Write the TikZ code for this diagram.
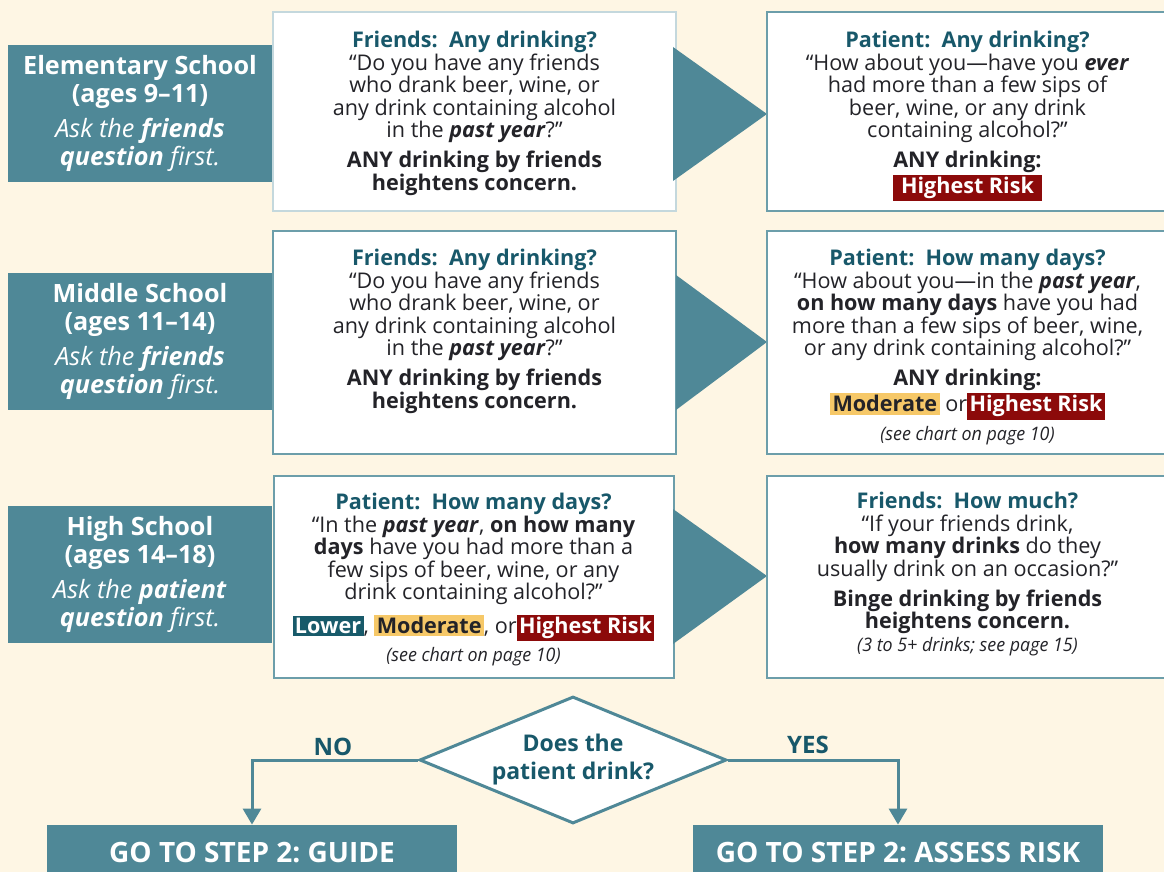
\documentclass[tikz,border=0pt]{standalone}
\usepackage{fontspec}
\setmainfont{Open Sans}
\usepackage{graphicx}
\usetikzlibrary{arrows.meta, shapes.geometric, positioning}
\frenchspacing

\definecolor{teal1}{RGB}{79,136,151}
\definecolor{teal2}{RGB}{108,158,170}
\definecolor{tealdark}{RGB}{24,88,106}
\definecolor{cream}{RGB}{254,246,228}
\definecolor{riskred}{RGB}{140,10,10}
\definecolor{riskyel}{RGB}{246,200,104}
\definecolor{risklow}{RGB}{24,90,106}
\definecolor{ink}{RGB}{35,35,40}

\newcommand{\riskbox}[3]{{\setlength{\fboxsep}{1.2pt}\colorbox{#1}{\textcolor{#2}{\bfseries #3}}}}
\newcommand{\seepage}[1]{{\fontsize{9.3}{11}\selectfont\itshape\scalebox{0.96}[1]{#1}}}
\newcommand{\bi}[1]{\textbf{\textit{#1}}}
\newcommand{\qhead}[1]{\textcolor{tealdark}{\bfseries #1}}

\begin{document}
\begin{tikzpicture}[x=0.5pt,y=-0.5pt,
  agebox/.style={rectangle, fill=teal1, text=white, minimum width=132pt,
    minimum height=68.5pt, align=center, inner sep=0pt,
    font=\fontsize{12.6}{14}\selectfont},
  qbox/.style={rectangle, draw=teal2, line width=1pt, fill=white, inner sep=0pt},
  qtext/.style={align=center, anchor=north, inner sep=0pt, text=ink,
    font=\fontsize{10.8}{11.25}\selectfont},
  pointer/.style={fill=teal1},
  flowline/.style={draw=teal1, line width=1.5pt, -{Triangle[width=9pt,length=8pt]}},
  stepbox/.style={rectangle, fill=teal1, text=white, minimum width=205pt,
    minimum height=28pt, inner sep=0pt, font=\fontsize{14}{15}\bfseries},
  answer/.style={text=tealdark, font=\fontsize{12}{13}\bfseries, inner sep=0pt}]
% Page and background
\useasboundingbox (0,0) rectangle (1164,872);
\clip (0,0) rectangle (1164,872);
\fill[cream] (0,0) rectangle (1164,872);
% Age groups on the left
\node[agebox] (elem) at (140,113.5) {\textbf{Elementary School}\\\textbf{(ages 9--11)}\\[3.5pt]
  \textit{Ask the \textbf{friends}}\\\textit{\textbf{question} first.}};
\node[agebox] (mid) at (140,341.5) {\textbf{Middle School}\\\textbf{(ages 11--14)}\\[3.5pt]
  \textit{Ask the \textbf{friends}}\\\textit{\textbf{question} first.}};
\node[agebox] (high) at (140,574.5) {\textbf{High School}\\\textbf{(ages 14--18)}\\[3.5pt]
  \textit{Ask the \textbf{patient}}\\\textit{\textbf{question} first.}};
% First question boxes
\node[qbox, draw=teal2!40, minimum width=201.5pt, minimum height=99.5pt] (fq1) at (474.5,111.5) {};
\node[qbox, minimum width=201.5pt, minimum height=111.5pt] (fq2) at (474.5,342.5) {};
\node[qbox, minimum width=200pt, minimum height=101pt] (pq3) at (473.5,577) {};
% Pointers between the boxes
\fill[pointer] (673,47) -- (673,181) -- (767,114) -- cycle;
\fill[pointer] (676,275) -- (676,410) -- (767,342) -- cycle;
\fill[pointer] (673,509) -- (673,644) -- (767,576) -- cycle;
% Second question boxes
\node[qbox, minimum width=200.5pt, minimum height=99.5pt] (pq1) at (967.5,111.5) {};
\node[qbox, minimum width=200.5pt, minimum height=111.5pt] (pq2) at (967.5,342.5) {};
\node[qbox, minimum width=200.5pt, minimum height=101pt] (fq3) at (967.5,577) {};
% Texts of the question boxes
\node[qtext] (fq1t) at ([yshift=-10pt]fq1.north) {\qhead{Friends:\ \ Any drinking?}\\
  “Do you have any friends\\ who drank beer, wine, or\\ any drink containing alcohol\\
  in the \bi{past year}?”\\[3.8pt]
  \textbf{ANY drinking by friends}\\ \textbf{heightens concern.}};
\node[qtext] (fq2t) at ([yshift=-9.5pt]fq2.north) {\qhead{Friends:\ \ Any drinking?}\\
  “Do you have any friends\\ who drank beer, wine, or\\ any drink containing alcohol\\
  in the \bi{past year}?”\\[3.8pt]
  \textbf{ANY drinking by friends}\\ \textbf{heightens concern.}};
\node[qtext] (pq3t) at ([yshift=-9pt]pq3.north) {\qhead{Patient:\ \ How many days?}\\
  “In the \bi{past year}, \textbf{on how many}\\ \textbf{days} have you had more than a\\
  few sips of beer, wine, or any\\ drink containing alcohol?”\\[3.8pt]
  \riskbox{risklow}{white}{Lower}, \riskbox{riskyel}{ink}{Moderate}, or\riskbox{riskred}{white}{Highest Risk}\\[3pt]
  \seepage{(see chart on page 10)}};
\node[qtext] (pq1t) at ([yshift=-10pt]pq1.north) {\qhead{Patient:\ \ Any drinking?}\\
  “How about you—have you \bi{ever}\\ had more than a few sips of\\ beer, wine, or any drink\\
  containing alcohol?”\\[3.8pt]
  \textbf{ANY drinking:}\\ \riskbox{riskred}{white}{\ Highest Risk\ }};
\node[qtext] (pq2t) at ([yshift=-9.5pt]pq2.north) {\qhead{Patient:\ \ How many days?}\\
  “How about you—in the \bi{past year},\\ \textbf{on how many days} have you had\\
  more than a few sips of beer, wine,\\ or any drink containing alcohol?”\\[3.8pt]
  \textbf{ANY drinking:}\\ \riskbox{riskyel}{ink}{Moderate} or\riskbox{riskred}{white}{Highest Risk}\\[3pt]
  \seepage{(see chart on page 10)}};
\node[qtext] (fq3t) at ([yshift=-8.5pt]fq3.north) {\qhead{Friends:\ \ How much?}\\
  “If your friends drink,\\ \textbf{how many drinks} do they\\ usually drink on an occasion?”\\[3.8pt]
  \textbf{Binge drinking by friends}\\ \textbf{heightens concern.}\\
  \seepage{(3 to 5+ drinks; see page 15)}};
% Decision and next steps
\node[diamond, aspect=2.4, draw=teal1, line width=1.5pt, fill=white, minimum width=153.5pt,
  minimum height=63.5pt, inner sep=0pt, align=center, text=tealdark,
  font=\fontsize{11.5}{14}\bfseries] (drink) at (573,760) {Does the\\ patient drink?};
\node[stepbox] (guide) at (252,853) {GO TO STEP 2: GUIDE};
\node[stepbox] (assess) at (898,853) {GO TO STEP 2: ASSESS RISK};
\draw[flowline] (drink.west) -| (guide.north);
\draw[flowline] (drink.east) -| (assess.north);
\node[answer] (no) at (333,747) {NO};
\node[answer] (yes) at (808,745) {YES};
\end{tikzpicture}
\end{document}
